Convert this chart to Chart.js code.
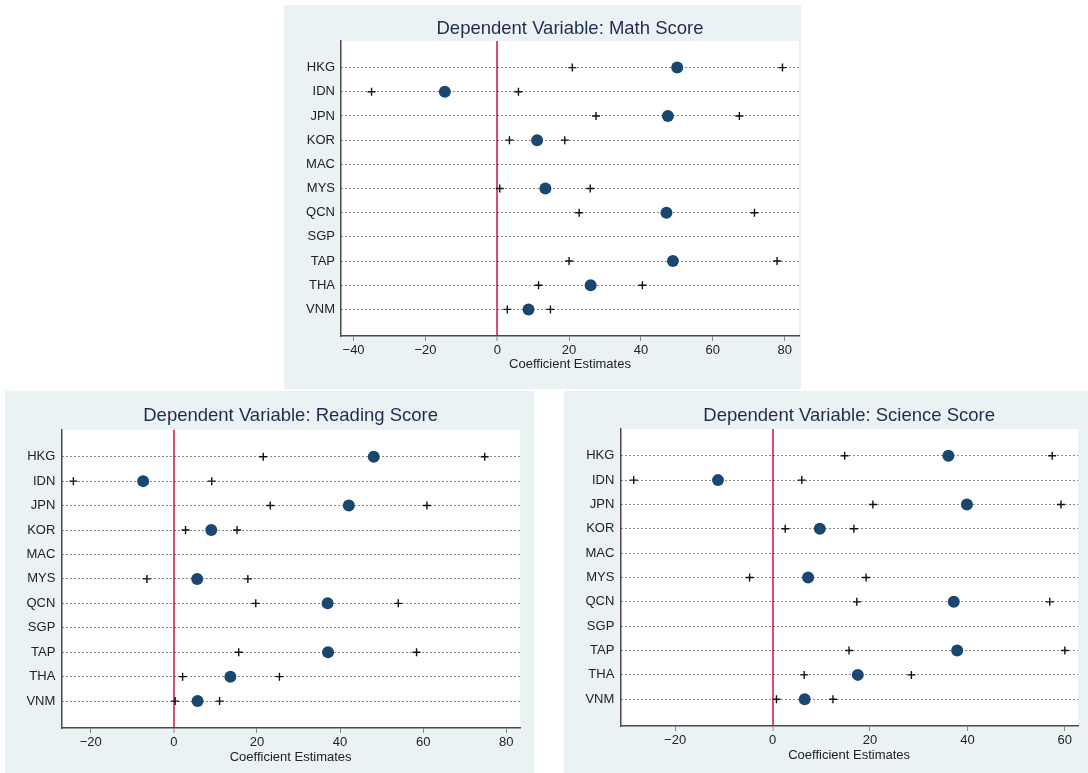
<!DOCTYPE html>
<html>
<head>
<meta charset="utf-8">
<title>Coefficient estimates by country</title>
<script src="https://cdn.jsdelivr.net/npm/chart.js@4.4.0/dist/chart.umd.min.js"></script>
<style>
  body { margin: 0; background: #fff; }
  .panel { position: absolute; background: #eaf2f3; }
  .panel canvas { display: block; }
  #pMath { left: 284px; top: 5px; width: 517px; height: 384px; }
  #pRead { left: 5px; top: 391px; width: 529px; height: 382px; }
  #pSci { left: 564px; top: 391px; width: 524px; height: 382px; }
</style>
</head>
<body>
<div class="panel" id="pMath"><canvas id="cMath" width="517" height="384"></canvas></div>
<div class="panel" id="pRead"><canvas id="cRead" width="529" height="382"></canvas></div>
<div class="panel" id="pSci"><canvas id="cSci" width="524" height="382"></canvas></div>
<script>
/* ---------- data ---------- */
const countries = ["HKG", "IDN", "JPN", "KOR", "MAC", "MYS", "QCN", "SGP", "TAP", "THA", "VNM"];

const mathEst = [50.1, -14.6, 47.5, 11.1, null, 13.4, 47.1, null, 48.9, 26.0, 8.7];
const mathLo = [20.9, -35.0, 27.5, 3.4, null, 0.7, 22.8, null, 20.0, 11.5, 2.8];
const mathHi = [79.4, 5.9, 67.4, 18.8, null, 25.9, 71.6, null, 77.9, 40.4, 14.8];

const readEst = [48.1, -7.4, 42.1, 9.0, null, 5.6, 37.0, null, 37.1, 13.6, 5.7];
const readLo = [21.5, -24.2, 23.2, 2.8, null, -6.5, 19.7, null, 15.6, 2.1, 0.3];
const readHi = [74.8, 9.1, 60.9, 15.2, null, 17.8, 54.0, null, 58.4, 25.4, 11.0];

const sciEst = [36.1, -11.2, 39.9, 9.7, null, 7.3, 37.2, null, 37.9, 17.5, 6.6];
const sciLo = [14.8, -28.5, 20.6, 2.6, null, -4.7, 17.3, null, 15.7, 6.5, 0.8];
const sciHi = [57.4, 6.0, 59.2, 16.7, null, 19.2, 56.9, null, 60.0, 28.5, 12.4];

const mathTicks = [-40, -20, 0, 20, 40, 60, 80];
const readTicks = [-20, 0, 20, 40, 60, 80];
const sciTicks = [-20, 0, 20, 40, 60];

/* ---------- helpers ---------- */
const FONT = "'Liberation Sans', Arial, sans-serif";
const NAVY = "#1a476f";
const ZERO_RED = "rgb(214, 80, 112)";

function toPoints(vals) {
  return vals
    .map((v, i) => (v === null ? null : { x: v, y: i + 1 }))
    .filter(Boolean);
}

function fmtTick(v) {
  return v < 0 ? "\u2212" + Math.abs(v) : String(v);
}

// white plot region on top of the grey-blue graph region
const plotBg = {
  id: "plotBg",
  beforeDraw(chart) {
    const { ctx, chartArea: a } = chart;
    ctx.save();
    ctx.fillStyle = "#fff";
    ctx.fillRect(a.left, a.top, a.right - a.left, a.bottom - a.top);
    ctx.restore();
  },
};

function ciSet(vals) {
  return {
    data: toPoints(vals),
    pointStyle: "cross",
    pointRadius: 4,
    pointBorderWidth: 1.4,
    pointBorderColor: "#111",
    borderColor: "#111",
    showLine: false,
  };
}

function makeChart(id, title, est, lo, hi, ticks, lay) {
  return new Chart(document.getElementById(id), {
    type: "scatter",
    data: {
      datasets: [
        ciSet(lo),
        ciSet(hi),
        {
          data: toPoints(est),
          pointStyle: "circle",
          pointRadius: 6,
          pointBorderWidth: 0,
          pointBackgroundColor: NAVY,
          backgroundColor: NAVY,
          showLine: false,
        },
      ],
    },
    options: {
      responsive: false,
      animation: false,
      events: [],
      layout: {
        autoPadding: false,
        padding: { top: 0, right: lay.padRight, bottom: 0, left: 0 },
      },
      plugins: {
        legend: { display: false },
        tooltip: { enabled: false },
        title: {
          display: true,
          text: title,
          fullSize: false,
          color: "#1e2c4f",
          font: { family: FONT, size: 18.5, weight: "normal" },
          padding: { top: lay.titleTop, bottom: lay.titleBottom },
        },
      },
      scales: {
        x: {
          type: "linear",
          min: lay.xMin,
          max: lay.xMax,
          afterBuildTicks: (s) => {
            s.ticks = ticks.map((v) => ({ value: v }));
          },
          afterFit: (s) => {
            s.height = lay.xAxisH;
            s.paddingLeft = 0;
            s.paddingRight = 0;
          },
          grid: {
            drawOnChartArea: true,
            color: (c) => (c.tick && c.tick.value === 0 ? ZERO_RED : "rgba(0,0,0,0)"),
            lineWidth: (c) => (c.tick && c.tick.value === 0 ? 2 : 1),
            tickColor: "#888",
            tickLength: 5,
            tickWidth: 1,
          },
          border: { display: true, color: "#4a4a4a", width: 1.5 },
          ticks: {
            color: "#222",
            font: { family: FONT, size: 13 },
            padding: 2,
            maxRotation: 0,
            callback: (v) => fmtTick(v),
          },
          title: {
            display: true,
            text: "Coefficient Estimates",
            color: "#222",
            font: { family: FONT, size: 13 },
            padding: { top: 0, bottom: lay.xTitlePad },
          },
        },
        y: {
          type: "linear",
          reverse: true,
          min: -0.1,
          max: 12.1,
          afterBuildTicks: (s) => {
            s.ticks = countries.map((c, i) => ({ value: i + 1 }));
          },
          afterFit: (s) => {
            s.width = lay.yAxisW;
          },
          grid: {
            color: "#111",
            lineWidth: 1,
            drawTicks: false,
          },
          border: { display: true, color: "#4a4a4a", width: 1.5, dash: [1, 3] },
          ticks: {
            color: "#222",
            font: { family: FONT, size: 13 },
            padding: 6,
            callback: (v) => countries[v - 1] || "",
          },
        },
      },
    },
    plugins: [plotBg],
  });
}

/* ---------- the three panels ---------- */
makeChart("cMath", "Dependent Variable: Math Score", mathEst, mathLo, mathHi, mathTicks, {
  xMin: -43.5, xMax: 84, yAxisW: 57, xAxisH: 53, padRight: 2,
  titleTop: 12.8, titleBottom: 1.0, xTitlePad: 17.2,
});

makeChart("cRead", "Dependent Variable: Reading Score", readEst, readLo, readHi, readTicks, {
  xMin: -27.1, xMax: 83.3, yAxisW: 56.3, xAxisH: 45, padRight: 14,
  titleTop: 14.3, titleBottom: 2.3, xTitlePad: 8.2,
});

makeChart("cSci", "Dependent Variable: Science Score", sciEst, sciLo, sciHi, sciTicks, {
  xMin: -31.25, xMax: 62.7, yAxisW: 56.3, xAxisH: 47, padRight: 10,
  titleTop: 13.9, titleBottom: 1.9, xTitlePad: 10.2,
});
</script>
</body>
</html>
